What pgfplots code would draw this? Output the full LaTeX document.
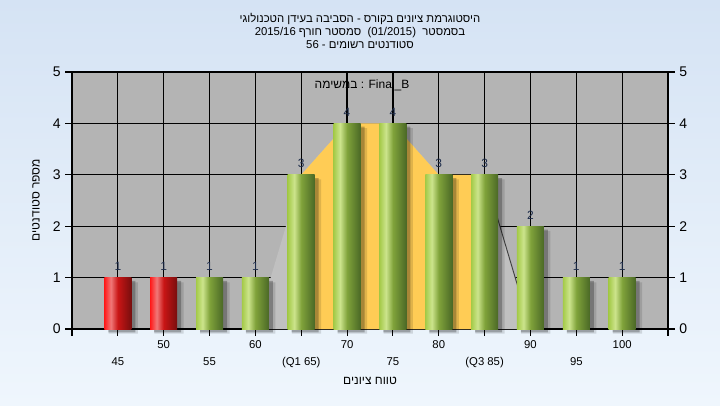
\documentclass[border=0pt]{standalone}
\usepackage{fontspec}
\setmainfont{Liberation Sans}
\newfontfamily\heb[Script=Hebrew]{Liberation Sans}
\TeXXeTstate=1
\usepackage{pgfplots}
\pgfplotsset{compat=1.18}
\definecolor{bgtop}{RGB}{213,227,244}
\definecolor{bgbot}{RGB}{239,246,253}
\definecolor{plotbg}{RGB}{180,180,180}
\definecolor{areagrey}{RGB}{192,192,192}
\definecolor{areayel}{RGB}{255,204,85}
\definecolor{gL}{RGB}{164,202,72}
\definecolor{gH}{RGB}{204,228,140}
\definecolor{gD}{RGB}{74,104,38}
\definecolor{rL}{RGB}{255,26,26}
\definecolor{rH}{RGB}{240,120,120}
\definecolor{rD}{RGB}{120,14,14}
\definecolor{labc}{RGB}{30,45,75}
\pgfdeclarehorizontalshading{greenbar}{100bp}{color(0bp)=(gL); color(25bp)=(gL); color(37bp)=(gH); color(50bp)=(gL!60!gD); color(75bp)=(gD); color(100bp)=(gD)}
\pgfdeclarehorizontalshading{redbar}{100bp}{color(0bp)=(rL); color(25bp)=(rL); color(37bp)=(rH); color(50bp)=(rL!60!rD); color(75bp)=(rD); color(100bp)=(rD)}
\pgfplotsset{
  gbar/.style={ybar, bar width=20.25pt, draw=none, shade, shading=greenbar},
  rbar/.style={ybar, bar width=20.25pt, draw=none, shade, shading=redbar},
}
\begin{document}
\begin{tikzpicture}
\shade[top color=bgtop, bottom color=bgbot] (0,0) rectangle (540pt,303.75pt);
\begin{axis}[
  at={(54pt,57pt)}, anchor=south west, scale only axis,
  width=447pt, height=192.75pt,
  xmin=-1, xmax=12, ymin=0, ymax=5,
  clip=false,
  axis background/.style={fill=plotbg},
  axis line style={black, line width=0.9pt},
  grid=major, grid style={black, line width=0.9pt},
  xtick={-1,1,3,5,7,9,11,12},
  xticklabels={,50,60,70,80,90,100,},
  extra x ticks={0,2,4,6,8,10},
  extra x tick labels={45,55,(Q1 65),75,(Q3 85),95},
  extra x tick style={grid=major, tick label style={yshift=-12.75pt}},
  ytick={0,...,5}, ytick pos=left, xtick pos=bottom,
  tick align=outside, major tick length=5pt,
  tick style={black, line width=0.8pt},
  xticklabel style={font=\fontsize{8.5}{10}\selectfont},
  yticklabel style={font=\fontsize{10.5}{12}\selectfont},
  /pgf/number format/assume math mode=true,
]
\addplot[fill=areagrey, draw=none] coordinates {(3,0) (4,3) (5,4) (6,4) (7,3) (8,3) (9,0)} \closedcycle;
\addplot[fill=areayel, draw=none] coordinates {(4,0) (4,3) (5,4) (6,4) (7,3) (8,3) (8,0)} \closedcycle;
\addplot[color=black!75, line width=0.7pt] coordinates {(8,3) (9,0)};
% shadows
\addplot[ybar, bar width=22pt, bar shift=4pt, yshift=-3.5pt, fill=black, opacity=0.12, draw=none]
  coordinates {(0,1) (1,1) (2,1) (3,1) (4,3) (5,4) (6,4) (7,3) (8,3) (9,2) (10,1) (11,1)};
\addplot[ybar, bar width=20.25pt, bar shift=3pt, yshift=-2.5pt, fill=black, opacity=0.25, draw=none]
  coordinates {(0,1) (1,1) (2,1) (3,1) (4,3) (5,4) (6,4) (7,3) (8,3) (9,2) (10,1) (11,1)};
% bars, one plot each so that each gets its own shading
\addplot[rbar] coordinates {(0,1)};
\addplot[rbar] coordinates {(1,1)};
\addplot[gbar] coordinates {(2,1)};
\addplot[gbar] coordinates {(3,1)};
\addplot[gbar] coordinates {(4,3)};
\addplot[gbar] coordinates {(5,4)};
\addplot[gbar] coordinates {(6,4)};
\addplot[gbar] coordinates {(7,3)};
\addplot[gbar] coordinates {(8,3)};
\addplot[gbar] coordinates {(9,2)};
\addplot[gbar] coordinates {(10,1)};
\addplot[gbar] coordinates {(11,1)};
% labels
\addplot[draw=none, mark=none, nodes near coords,
  every node near coord/.append style={font=\fontsize{9}{10}\selectfont, text=labc, yshift=1.5pt}]
  coordinates {(0,1) (1,1) (2,1) (3,1) (4,3) (5,4) (6,4) (7,3) (8,3) (9,2) (10,1) (11,1)};
\end{axis}
\begin{axis}[
  at={(54pt,57pt)}, anchor=south west, scale only axis,
  width=447pt, height=192.75pt,
  xmin=-1, xmax=12, ymin=0, ymax=5,
  axis y line*=right, hide x axis,
  axis line style={black, line width=0.9pt},
  ytick={0,...,5},
  tick align=outside, major tick length=5pt,
  tick style={black, line width=0.8pt},
  yticklabel style={font=\fontsize{10.5}{12}\selectfont},
  /pgf/number format/assume math mode=true,
]
\end{axis}
\node[font=\fontsize{8.5}{9.75}\selectfont, align=center] at (270pt,280.5pt)
  {{\heb\beginR היסטוגרמת ציונים בקורס - הסביבה בעידן הטכנולוגי\endR}\\
   {\heb\beginR בסמסטר\ \ \beginL(01/2015)\endL\ \ סמסטר חורף \beginL2015/16\endL\endR}\\
   {\heb\beginR סטודנטים רשומים - \beginL56\endL\endR}};
\node[font=\fontsize{9}{10}\selectfont] at (271.5pt,240pt)
  {{\heb\beginR במשימה\endR} : Final\_B};
\node[font=\fontsize{9}{10}\selectfont] at (277.5pt,18pt) {\heb\beginR טווח ציונים\endR};
\node[font=\fontsize{9}{10}\selectfont, rotate=90] at (27pt,153.75pt) {\heb\beginR מספר סטודנטים\endR};
\pgfresetboundingbox
\useasboundingbox (0,0) rectangle (540pt,303.75pt);
\end{tikzpicture}
\end{document}
